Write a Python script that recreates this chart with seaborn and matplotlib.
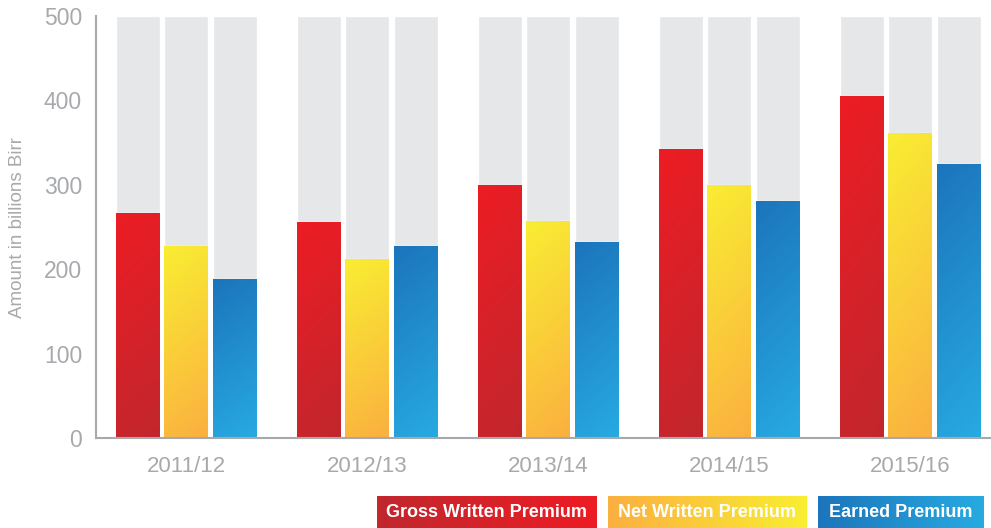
import numpy as np
import pandas as pd
import seaborn as sns
import matplotlib.pyplot as plt
from matplotlib.colors import LinearSegmentedColormap

years = ['2011/12', '2012/13', '2013/14', '2014/15', '2015/16']
series = ['Gross Written Premium', 'Net Written Premium', 'Earned Premium']
gross = [267, 256, 300, 342, 405]
net = [227, 212, 257, 300, 361]
earned = [188, 227, 232, 281, 325]
y_max = 500

# bar gradient colours: (top, bottom) of each series
grad = {
    'Gross Written Premium': ('#ED1C24', '#C1272D'),
    'Net Written Premium': ('#F9ED32', '#FBB040'),
    'Earned Premium': ('#1C75BC', '#27AAE1'),
}
# legend box gradient colours: (left, right)
legend_grad = {
    'Gross Written Premium': ('#C1272D', '#ED1C24'),
    'Net Written Premium': ('#FBB040', '#F9ED32'),
    'Earned Premium': ('#1C75BC', '#27AAE1'),
}
grey_bg = '#E6E7E8'
text_grey = '#A7A9AC'

df = pd.DataFrame({
    'year': years * 3,
    'series': [s for s in series for _ in years],
    'value': gross + net + earned,
})
df['full'] = y_max

sns.set_style('white')
plt.rcParams['font.family'] = ['Liberation Sans', 'DejaVu Sans']

fig = plt.figure(figsize=(9.91, 5.28), dpi=100)
ax = fig.add_axes([96 / 991, 90 / 528, 1 - 96 / 991, 422 / 528])

kw = dict(x='year', hue='series', order=years, hue_order=series,
          width=0.804, gap=0.093, legend=False, ax=ax, saturation=1)
sns.barplot(data=df, y='full', palette=[grey_bg] * 3, **kw)
sns.barplot(data=df, y='value', palette=[grad[s][1] for s in series], **kw)

# gradient fill for the data bars
for cont, name in zip(ax.containers[3:], series):
    top, bottom = grad[name]
    cmap = LinearSegmentedColormap.from_list(name, [top, bottom])
    for bar in cont:
        x0, y0 = bar.get_x(), bar.get_y()
        w, h = bar.get_width(), bar.get_height()
        vy, vx = np.mgrid[0:1:100j, 0:1:20j]
        g = 0.85 * vy + 0.15 * vx
        im = ax.imshow(g, cmap=cmap, extent=[x0, x0 + w, y0, y0 + h],
                       origin='upper', aspect='auto', zorder=bar.get_zorder() + 0.1,
                       interpolation='bilinear')
        im.set_clip_path(bar)

ax.set_xlim(-0.5, 4.445)
ax.set_ylim(0, y_max)
ax.set_yticks(range(0, 501, 100))
ax.set_xlabel('')
ax.set_ylabel('Amount in billions Birr', fontsize=13.5, color=text_grey)
ax.yaxis.set_label_coords(-0.078, 0.5)
ax.tick_params(axis='both', length=0, labelcolor=text_grey)
ax.tick_params(axis='y', pad=10, labelsize=16.5)
ax.tick_params(axis='x', pad=13, labelsize=16)
sns.despine(ax=ax, top=True, right=True)
for side in ['left', 'bottom']:
    ax.spines[side].set_color(text_grey)
    ax.spines[side].set_linewidth(1.5)

# legend boxes with horizontal gradient
boxes = [(377, 220), (608, 199), (818, 166)]
for (bx, bw), name in zip(boxes, series):
    left, right = legend_grad[name]
    lax = fig.add_axes([bx / 991, 0, bw / 991, 32 / 528])
    cmap = LinearSegmentedColormap.from_list(name + '_l', [left, right])
    lax.imshow(np.linspace(0, 1, 50)[None, :], cmap=cmap, aspect='auto',
               extent=[0, 1, 0, 1], interpolation='bilinear')
    lax.text(0.5, 0.48, name, ha='center', va='center', color='white',
             fontsize=13, fontweight='bold')
    lax.set_axis_off()

fig.savefig('out.png', dpi=100)
